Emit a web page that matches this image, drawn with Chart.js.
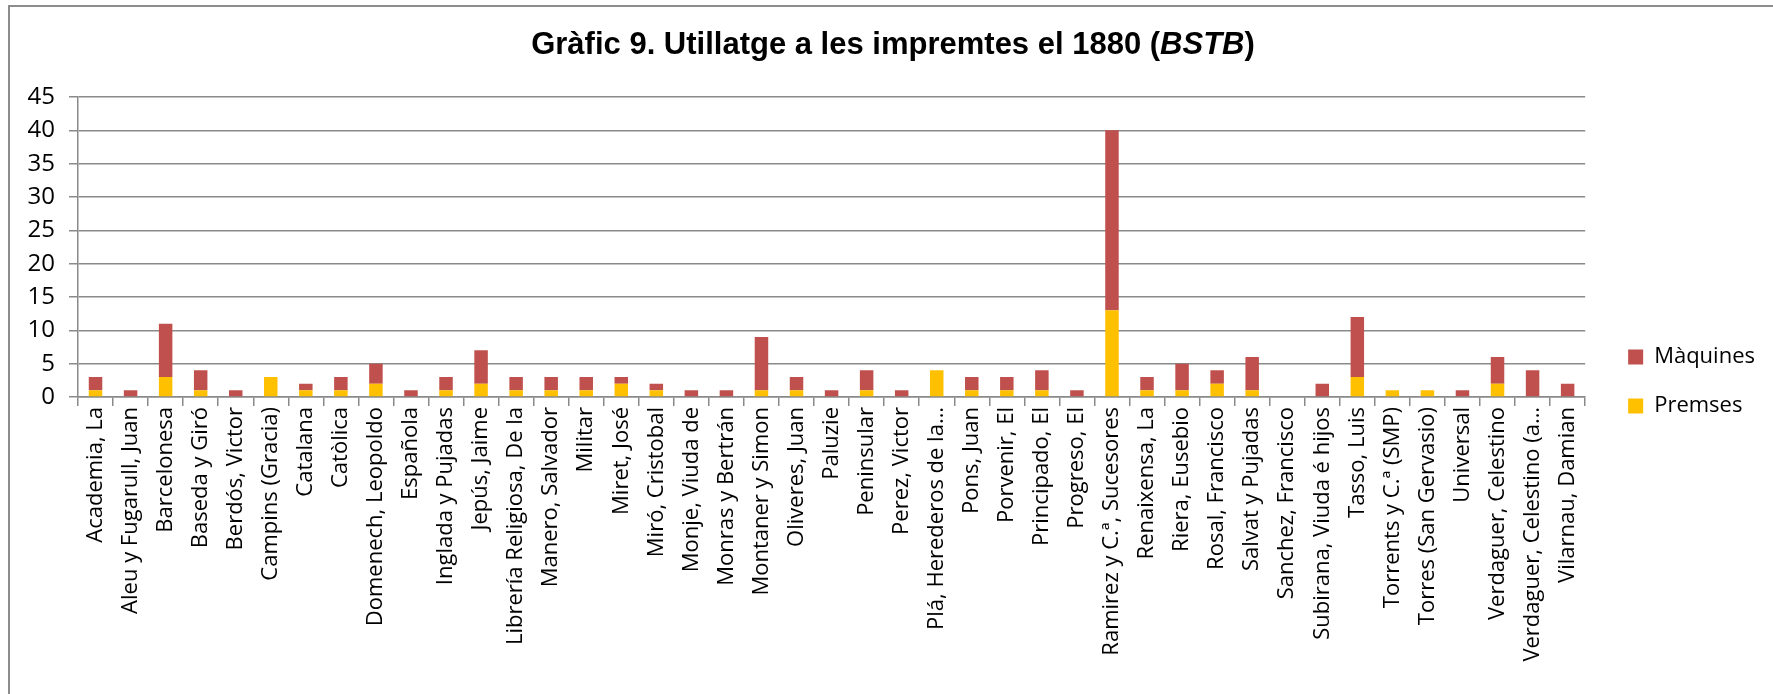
<!DOCTYPE html>
<html>
<head>
<meta charset="utf-8">
<script src="https://cdn.jsdelivr.net/npm/chart.js@4"></script>
<style>
  body { margin: 0; background: #fff; }
  #wrap { position: relative; width: 1773px; height: 694px; overflow: hidden; }
  #frame { position: absolute; left: 8px; top: 5px; width: 1800px; height: 800px; border: 2px solid #8c8c8c; pointer-events: none; }
  #title { position: absolute; top: 28px; left: 893px; transform: translateX(-50%); white-space: nowrap;
           font: bold 31px "Liberation Sans", Arial, sans-serif; line-height: 1; color: #000; }
</style>
</head>
<body>
<div id="wrap">
  <canvas id="impChart"></canvas>
  <div id="frame"></div>
  <div id="title">Gràfic 9. Utillatge a les impremtes el 1880 (<i>BSTB</i>)</div>
</div>
<script>
const impremtes = ['Academia, La', 'Aleu y Fugarull, Juan', 'Barcelonesa', 'Baseda y Giró', 'Berdós, Victor',
  'Campins (Gracia)', 'Catalana', 'Catòlica', 'Domenech, Leopoldo', 'Española', 'Inglada y Pujadas',
  'Jepús, Jaime', 'Librería Religiosa, De la', 'Manero, Salvador', 'Militar', 'Miret, José', 'Miró, Cristobal',
  'Monje, Viuda de', 'Monras y Bertrán', 'Montaner y Simon', 'Oliveres, Juan', 'Paluzie', 'Peninsular',
  'Perez, Victor', 'Plá, Herederos de la…', 'Pons, Juan', 'Porvenir, El', 'Principado, El', 'Progreso, El',
  'Ramirez y C.ª, Sucesores', 'Renaixensa, La', 'Riera, Eusebio', 'Rosal, Francisco', 'Salvat y Pujadas',
  'Sanchez, Francisco', 'Subirana, Viuda é hijos', 'Tasso, Luis', 'Torrents y C.ª (SMP)', 'Torres (San Gervasio)',
  'Universal', 'Verdaguer, Celestino', 'Verdaguer, Celestino (a…', 'Vilarnau, Damian'];

const premses  = [1, 0, 3, 1, 0, 3, 1, 1, 2, 0, 1, 2, 1, 1, 1, 2, 1, 0, 0, 1, 1, 0, 1, 0, 4, 1, 1, 1, 0, 13, 1, 1, 2, 1, 0, 0, 3, 1, 1, 0, 2, 0, 0];
const maquines = [2, 1, 8, 3, 1, 0, 1, 2, 3, 1, 2, 5, 2, 2, 2, 1, 1, 1, 1, 8, 2, 1, 3, 1, 0, 2, 2, 3, 1, 27, 2, 4, 2, 5, 0, 2, 9, 0, 0, 1, 4, 4, 2];

const gridGray = '#8a8a8a';
Chart.defaults.font.family = '"Open Sans", sans-serif';
Chart.defaults.color = '#000';

new Chart(document.getElementById('impChart'), {
  type: 'bar',
  data: {
    labels: impremtes,
    datasets: [
      { label: 'Premses', data: premses, backgroundColor: '#FFC000' },
      { label: 'Màquines', data: maquines, backgroundColor: '#C0504D' }
    ]
  },
  options: {
    responsive: true,
    maintainAspectRatio: false,
    animation: false,
    barPercentage: 0.385,
    categoryPercentage: 1.0,
    layout: { padding: { left: 0, top: 97, right: 8, bottom: 28 } },
    plugins: {
      title: { display: false },
      tooltip: { enabled: false },
      legend: {
        position: 'right',
        reverse: true,
        labels: { boxWidth: 15, boxHeight: 15, padding: 27, font: { size: 22 } }
      }
    },
    scales: {
      x: {
        stacked: true,
        grid: { display: true, drawOnChartArea: false, offset: true, color: gridGray, lineWidth: 1.5, tickLength: 9 },
        border: { color: gridGray, width: 1.5 },
        ticks: { autoSkip: false, minRotation: 90, maxRotation: 90, padding: 1, font: { size: 22 } },
        afterFit: s => { s.height = 269; }
      },
      y: {
        stacked: true,
        min: 0, max: 45,
        grid: { color: gridGray, lineWidth: 1.5, tickLength: 9 },
        border: { color: gridGray, width: 1.5 },
        ticks: { stepSize: 5, padding: 14, font: { size: 24 } },
        afterFit: s => { s.width = 78; }
      },
      gap: {
        type: 'linear',
        position: 'right',
        grid: { display: false },
        border: { display: false },
        ticks: { display: false },
        afterFit: s => { s.width = 16; }
      }
    }
  }
});
</script>
</body>
</html>
